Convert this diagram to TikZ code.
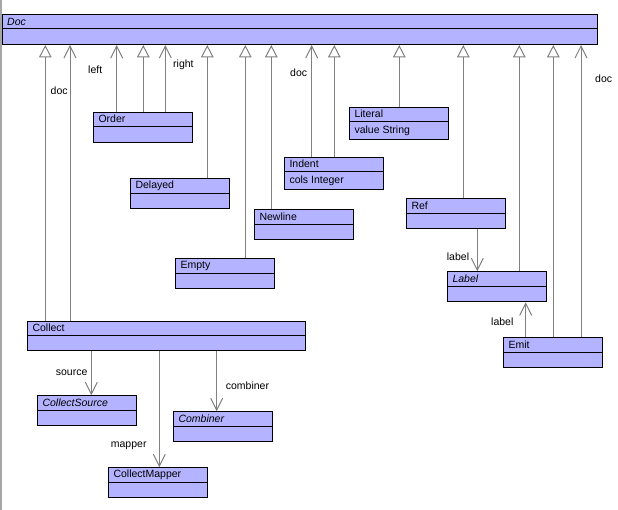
\documentclass[tikz,border=0pt]{standalone}
\usepackage{fontspec}
\setmainfont{Liberation Sans}
\usetikzlibrary{arrows.meta,calc}
\definecolor{clsfill}{RGB}{179,179,255}
\definecolor{connc}{RGB}{128,128,128}
\newcommand\umlcls[7]{%
  \node[cls, minimum width=#4pt, minimum height=#5pt] (#1) at (#2,#3) {};
  \draw[black, line width=1pt] ($(#1.north west)+(0,15)$) -- ($(#1.north east)+(0,15)$);
  \node[txt, anchor=west] (#1-t) at ($(#1.north west)+(5,7.5)$) {#6};
  \node[txt, anchor=west] (#1-a) at ($(#1.north west)+(5,{15+(#5-15)/2})$) {#7};
}
\begin{document}
\begin{tikzpicture}[x=1pt,y=-1pt,
  cls/.style={draw=black, line width=1pt, fill=clsfill, rectangle, inner sep=0pt, anchor=north west},
  txt/.style={inner sep=0pt, font=\fontsize{10.5}{12}\selectfont},
  lbl/.style={inner sep=0pt, anchor=base west, font=\fontsize{10.5}{12}\selectfont},
  gen/.style={draw=connc, line width=1pt, -{Triangle[open, length=12.5pt, width=12.7pt, fill=white]}},
  assoc/.style={draw=connc, line width=1pt, -{Straight Barb[length=12pt, width=12pt]}}]
\useasboundingbox (0,0) rectangle (618,510);
\fill[white] (0,0) rectangle (618,510);
\draw[gray!70, line width=2pt] (1,0) -- (1,510);

\umlcls{doc}{2}{14}{595}{30}{\itshape Doc}{}
\umlcls{order}{93.3}{111.7}{99}{30}{Order}{}
\umlcls{literal}{349.3}{106.7}{99}{32.6}{Literal}{value String}
\umlcls{indent}{284.3}{156.7}{99}{32.6}{Indent}{cols Integer}
\umlcls{delayed}{130.3}{178.3}{99}{30}{Delayed}{}
\umlcls{newline}{254.3}{209.3}{99}{30}{Newline}{}
\umlcls{empty}{175.3}{258.3}{99}{30}{Empty}{}
\umlcls{collect}{27.3}{320.7}{278}{29.6}{Collect}{}
\umlcls{ref}{406.3}{198.3}{99}{30}{Ref}{}
\umlcls{label}{447.3}{271.3}{99}{30}{\itshape Label}{}
\umlcls{emit}{503.3}{337.3}{99}{30}{Emit}{}
\umlcls{csource}{37.3}{395.3}{99}{30}{\itshape CollectSource}{}
\umlcls{cmapper}{108.3}{467.3}{99}{30}{CollectMapper}{}
\umlcls{combiner}{173.3}{411.3}{99}{30}{\itshape Combiner}{}

% generalizations
\draw[gen] (collect.north -| 45.3,0) -- (doc.south -| 45.3,0);
\draw[gen] (order.north -| 143.3,0) -- (doc.south -| 143.3,0);
\draw[gen] (delayed.north -| 207.3,0) -- (doc.south -| 207.3,0);
\draw[gen] (empty.north -| 245.3,0) -- (doc.south -| 245.3,0);
\draw[gen] (newline.north -| 271.3,0) -- (doc.south -| 271.3,0);
\draw[gen] (indent.north -| 334.3,0) -- (doc.south -| 334.3,0);
\draw[gen] (literal.north -| 399.3,0) -- (doc.south -| 399.3,0);
\draw[gen] (ref.north -| 463.3,0) -- (doc.south -| 463.3,0);
\draw[gen] (label.north -| 519.3,0) -- (doc.south -| 519.3,0);
\draw[gen] (emit.north -| 553.3,0) -- (doc.south -| 553.3,0);

% associations
\draw[assoc] (collect.north -| 70,0) -- (doc.south -| 70,0);
\draw[assoc] (order.north -| 116.7,0) -- (doc.south -| 116.7,0);
\draw[assoc] (order.north -| 165.3,0) -- (doc.south -| 165.3,0);
\draw[assoc] (indent.north -| 311.7,0) -- (doc.south -| 311.7,0);
\draw[assoc] (emit.north -| 581,0) -- (doc.south -| 581,0);
\draw[assoc] (ref.south -| 477.3,0) -- (label.north -| 477.3,0);
\draw[assoc] (emit.north -| 525.7,0) -- (label.south -| 525.7,0);
\draw[assoc] (collect.south -| 91.3,0) -- (csource.north -| 91.3,0);
\draw[assoc] (collect.south -| 159.3,0) -- (cmapper.north -| 159.3,0);
\draw[assoc] (collect.south -| 216.7,0) -- (combiner.north -| 216.7,0);

% labels
\node[lbl] (l-doc1) at (50.5,95) {doc};
\node[lbl] (l-left) at (88,74) {left};
\node[lbl] (l-right) at (173,67.5) {right};
\node[lbl] (l-doc2) at (290,77) {doc};
\node[lbl] (l-doc3) at (595,83) {doc};
\node[lbl] (l-lab1) at (446.7,260.7) {label};
\node[lbl] (l-lab2) at (491,326) {label};
\node[lbl] (l-src) at (55.7,375.7) {source};
\node[lbl] (l-map) at (110.7,447.3) {mapper};
\node[lbl] (l-comb) at (225.7,389.3) {combiner};
\end{tikzpicture}
\end{document}
